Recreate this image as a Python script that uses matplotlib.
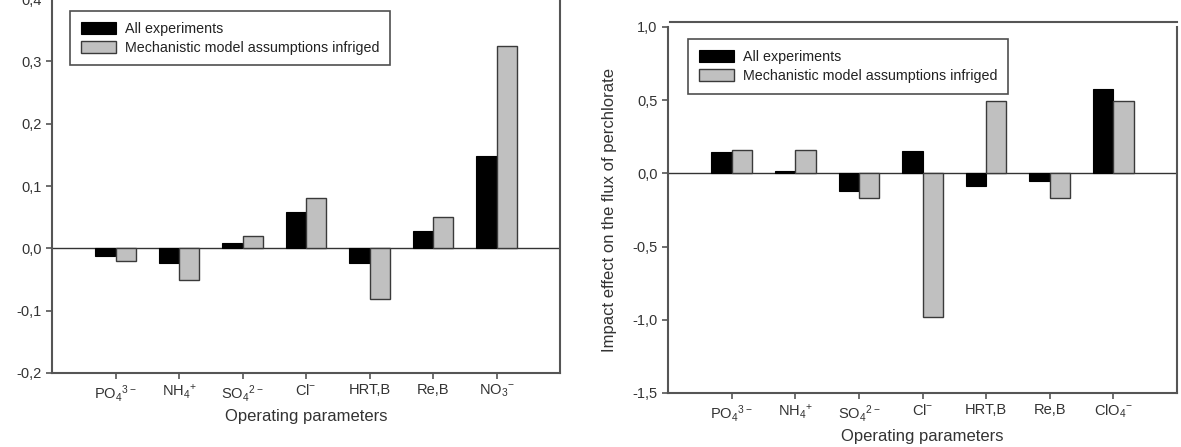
import numpy as np
import matplotlib.pyplot as plt
from matplotlib.ticker import FuncFormatter

plt.rcParams['font.family'] = ['Liberation Sans', 'DejaVu Sans']
plt.rcParams['mathtext.default'] = 'regular'

# left panel: nitrate
labels_no3 = ['$PO_4{}^{3-}$', '$NH_4{}^{+}$', '$SO_4{}^{2-}$', '$Cl^{-}$', 'HRT,B', 'Re,B', '$NO_3{}^{-}$']
all_no3 = [-0.013, -0.024, 0.008, 0.058, -0.024, 0.028, 0.148]
mech_no3 = [-0.021, -0.051, 0.020, 0.080, -0.081, 0.050, 0.325]

# right panel: perchlorate
labels_clo4 = ['$PO_4{}^{3-}$', '$NH_4{}^{+}$', '$SO_4{}^{2-}$', '$Cl^{-}$', 'HRT,B', 'Re,B', '$ClO_4{}^{-}$']
all_clo4 = [0.146, 0.016, -0.121, 0.150, -0.084, -0.050, 0.579]
mech_clo4 = [0.157, 0.157, -0.171, -0.984, 0.497, -0.171, 0.497]

W, H = 1181, 447
fig = plt.figure(figsize=(W / 100, H / 100), dpi=100)

spine_col = '#555555'
comma = FuncFormatter(lambda v, p: ('%.1f' % v).replace('.', ','))


def panel(rect, labels, a, b, ylim, yticks, ylabel, lab_x, leg_xy):
    ax = fig.add_axes(rect)
    x = np.arange(1, len(labels) + 1)
    w = 0.32
    ax.bar(x - w / 2, a, w, color='black', edgecolor='black', linewidth=0.8,
           label='All experiments')
    ax.bar(x + w / 2, b, w, color='#c0c0c0', edgecolor='#3a3a3a', linewidth=1.0,
           label='Mechanistic model assumptions infriged')
    ax.axhline(0, color='#333333', lw=1.0, zorder=0.5)
    ax.set_xlim(0, 8)
    ax.set_ylim(*ylim)
    ax.set_yticks(yticks)
    ax.yaxis.set_major_formatter(comma)
    ax.set_xticks(x)
    ax.set_xticklabels(labels)
    ax.tick_params(axis='both', direction='out', length=4, width=1.2,
                   color=spine_col, labelsize=10.5, labelcolor='#333333')
    ax.tick_params(axis='x', pad=3)
    for s in ['left', 'bottom', 'right']:
        ax.spines[s].set_color(spine_col)
        ax.spines[s].set_linewidth(1.5)
    ax.spines['top'].set_visible(False)
    ax.set_xlabel('Operating parameters', fontsize=12, color='#333333', labelpad=4)
    ax.set_ylabel(ylabel, fontsize=12, color='#333333')
    ax.yaxis.set_label_coords(lab_x, 0.5)
    leg = ax.legend(loc='upper left', bbox_to_anchor=leg_xy, fontsize=10.3,
                    frameon=True, fancybox=False, borderaxespad=0,
                    handlelength=2.5, handleheight=0.9, handletextpad=0.6,
                    labelspacing=0.35, borderpad=0.75)
    leg.get_frame().set_edgecolor('#222222')
    leg.get_frame().set_linewidth(1.2)
    for t in leg.get_texts():
        t.set_color('#222222')
    return ax


ax1 = panel([52 / W, 1 - 373 / H, 508 / W, 374 / H], labels_no3, all_no3, mech_no3,
            (-0.2, 0.4), [-0.2, -0.1, 0.0, 0.1, 0.2, 0.3, 0.4],
            'Impact effect on the flux of nitrate', -0.112, (0.035, 0.968))

ax2 = panel([668 / W, 1 - 393 / H, 509 / W, 366 / H], labels_clo4, all_clo4, mech_clo4,
            (-1.5, 1.0), [-1.5, -1.0, -0.5, 0.0, 0.5, 1.0],
            'Impact effect on the flux of perchlorate', -0.1, (0.039, 0.967))
# detached top border line of the right panel
ax2.plot([0.004, 1.0], [1.014, 1.014], transform=ax2.transAxes, color=spine_col,
         lw=1.5, clip_on=False)

fig.savefig('out.png', dpi=100)
